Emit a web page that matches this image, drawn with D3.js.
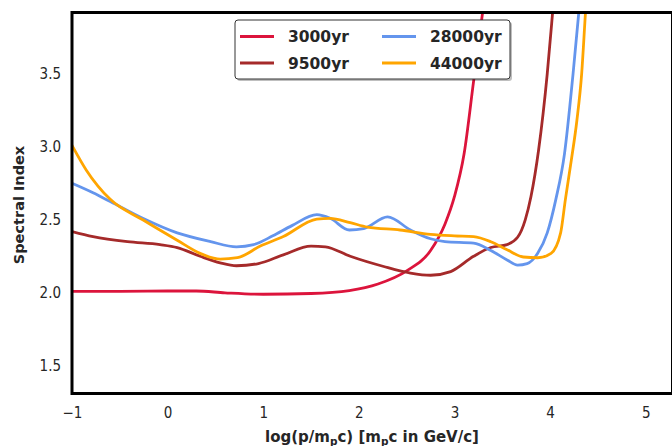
<!DOCTYPE html>
<html><head><meta charset="utf-8">
<script src="https://cdn.jsdelivr.net/npm/d3@7"></script>
<style>
html,body{margin:0;padding:0;background:#fff;}
svg{display:block;}
</style></head>
<body>
<svg id="chart" width="672" height="446"></svg>
<script>
// ---- data ----
const seriesNames = ["3000yr", "9500yr", "28000yr", "44000yr"];
const seriesColors = ["#DC143C", "#A52A2A", "#6495ED", "#FFA500"];

const x3000 = [-1, -0.5, 0, 0.3, 0.6, 1.0, 1.5, 1.9, 2.2, 2.5, 2.75, 2.9, 3.0, 3.1, 3.2, 3.3, 3.4];
const y3000 = [2.01, 2.01, 2.012, 2.012, 2.0, 1.99, 1.995, 2.015, 2.06, 2.15, 2.29, 2.47, 2.66, 2.95, 3.45, 3.95, 4.5];

const x9500 = [-1, -0.78, -0.42, -0.08, 0.1, 0.34, 0.55, 0.72, 0.95, 1.21, 1.5, 1.65, 1.91, 2.26, 2.54, 2.75, 2.96, 3.2, 3.38, 3.55, 3.66, 3.74, 3.8, 3.88, 3.97, 4.03, 4.1];
const y9500 = [2.42, 2.385, 2.35, 2.33, 2.31, 2.25, 2.205, 2.185, 2.2, 2.26, 2.32, 2.315, 2.25, 2.18, 2.135, 2.12, 2.145, 2.25, 2.31, 2.33, 2.38, 2.5, 2.66, 2.98, 3.5, 3.95, 4.5];

const x28000 = [-1, -0.78, -0.6, -0.26, 0.1, 0.45, 0.72, 0.9, 1.1, 1.3, 1.56, 1.7, 1.9, 2.05, 2.3, 2.54, 2.75, 2.9, 3.2, 3.38, 3.55, 3.66, 3.76, 3.87, 3.97, 4.06, 4.15, 4.24, 4.3, 4.36];
const y28000 = [2.75, 2.685, 2.625, 2.51, 2.41, 2.35, 2.315, 2.33, 2.39, 2.46, 2.535, 2.51, 2.43, 2.44, 2.52, 2.43, 2.37, 2.35, 2.34, 2.29, 2.225, 2.19, 2.2, 2.27, 2.41, 2.64, 2.95, 3.5, 3.92, 4.4];

const x44000 = [-1, -0.85, -0.6, -0.26, 0.1, 0.34, 0.55, 0.73, 0.97, 1.21, 1.56, 1.7, 1.91, 2.09, 2.43, 2.75, 3.0, 3.2, 3.38, 3.55, 3.72, 3.87, 4.01, 4.11, 4.16, 4.22, 4.28, 4.33, 4.37, 4.42];
const y44000 = [3.01, 2.84, 2.64, 2.5, 2.36, 2.27, 2.23, 2.24, 2.32, 2.385, 2.505, 2.51, 2.48, 2.45, 2.43, 2.40, 2.39, 2.385, 2.35, 2.295, 2.245, 2.24, 2.27, 2.41, 2.64, 2.9, 3.18, 3.5, 3.92, 4.4];

const xTicks = [-1, 0, 1, 2, 3, 4, 5];
const yTicks = [1.5, 2.0, 2.5, 3.0, 3.5];
const xDomain = [-1, 5.28];
const yDomain = [1.31, 3.92];

const seriesX = [x3000, x9500, x28000, x44000];
const seriesY = [y3000, y9500, y28000, y44000];

// ---- layout ----
const svg = d3.select("#chart");
const pL = 72, pR = 672.5, pT = 12.5, pB = 393.5;
const x = d3.scaleLinear().domain(xDomain).range([pL, pR]);
const y = d3.scaleLinear().domain(yDomain).range([pB, pT]);

svg.append("defs").append("clipPath").attr("id", "clip")
  .append("rect").attr("x", pL).attr("y", pT).attr("width", pR - pL).attr("height", pB - pT);

const tickFont = "'DejaVu Sans Condensed','DejaVu Sans',sans-serif";

const xAxis = svg.append("g").attr("transform", `translate(0,${pB})`)
  .call(d3.axisBottom(x).tickValues(xTicks).tickSize(0).tickPadding(14)
    .tickFormat(d => d < 0 ? "\u2212" + Math.abs(d) : String(d)));
xAxis.select(".domain").remove();
xAxis.selectAll("text").attr("font-family", tickFont).attr("font-size", 15).attr("fill", "#262626");

const yAxis = svg.append("g").attr("transform", `translate(${pL},0)`)
  .call(d3.axisLeft(y).tickValues(yTicks).tickSize(0).tickPadding(11).tickFormat(d3.format(".1f")));
yAxis.select(".domain").remove();
yAxis.selectAll("text").attr("font-family", tickFont).attr("font-size", 15).attr("fill", "#262626");

const line = d3.line().x(d => x(d[0])).y(d => y(d[1])).curve(d3.curveMonotoneX);
const plot = svg.append("g").attr("clip-path", "url(#clip)");
seriesNames.forEach((name, i) => {
  const pts = seriesX[i].map((v, j) => [v, seriesY[i][j]]);
  plot.append("path").datum(pts).attr("d", line)
    .attr("fill", "none").attr("stroke", seriesColors[i]).attr("stroke-width", 2.8)
    .attr("stroke-linejoin", "round").attr("stroke-linecap", "round");
});

svg.append("rect").attr("x", pL).attr("y", pT).attr("width", pR - pL).attr("height", pB - pT)
  .attr("fill", "none").attr("stroke", "#000").attr("stroke-width", 3);

// legend
const lg = svg.append("g");
const lx = 235, ly = 20, lw = 275, lh = 59;
lg.append("rect").attr("x", lx + 2).attr("y", ly + 2).attr("width", lw).attr("height", lh).attr("rx", 3)
  .attr("fill", "#000").attr("opacity", 0.25);
lg.append("rect").attr("x", lx).attr("y", ly).attr("width", lw).attr("height", lh).attr("rx", 3)
  .attr("fill", "#fff").attr("stroke", "#333").attr("stroke-width", 1);
const cols = [240, 382];
const rows = [36.5, 63];
seriesNames.forEach((name, i) => {
  const c = Math.floor(i / 2), r = i % 2;
  const cx = cols[c], cy = rows[r];
  lg.append("line").attr("x1", cx).attr("x2", cx + 34).attr("y1", cy).attr("y2", cy)
    .attr("stroke", seriesColors[i]).attr("stroke-width", 3);
  lg.append("text").attr("x", cx + 48).attr("y", cy).attr("dy", "0.36em")
    .attr("font-family", "'DejaVu Sans',sans-serif").attr("font-weight", "bold").attr("font-size", 15.5)
    .attr("fill", "#262626").text(name);
});

svg.append("text").attr("transform", "translate(24,205) rotate(-90)").attr("text-anchor", "middle")
  .attr("font-family", "'DejaVu Sans',sans-serif").attr("font-weight", "bold").attr("font-size", 14.5)
  .attr("fill", "#262626").text("Spectral Index");

const xt = svg.append("text").attr("x", 372).attr("y", 442).attr("text-anchor", "middle")
  .attr("font-family", "'DejaVu Sans',sans-serif").attr("font-weight", "bold")
  .attr("font-size", 15).attr("fill", "#262626");
xt.append("tspan").text("log(p/m");
xt.append("tspan").attr("font-size", 10.5).attr("dy", 3).text("p");
xt.append("tspan").attr("dy", -3).text("c) [m");
xt.append("tspan").attr("font-size", 10.5).attr("dy", 3).text("p");
xt.append("tspan").attr("dy", -3).text("c in GeV/c]");
</script>
</body></html>
